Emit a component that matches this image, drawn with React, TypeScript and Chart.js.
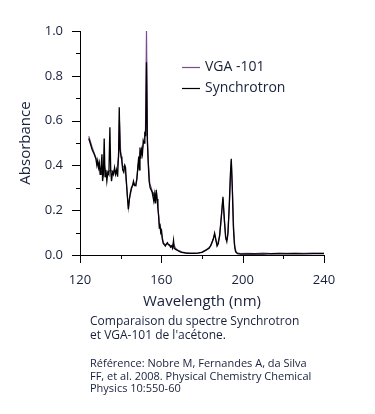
import { useEffect, useRef } from 'react';
import { Chart, registerables } from 'chart.js';

Chart.register(...registerables);

const FONT = "'Open Sans', 'Noto Sans', sans-serif";
const TEXT = '#18203c';

const synWavelength = [
  124.3, 125.0, 126.0, 127.0, 127.8, 128.3, 128.7, 129.1, 129.5, 129.9, 130.3, 130.8, 131.1, 131.5, 131.9, 132.3,
  132.7, 133.2, 133.7, 134.2, 134.7, 135.1, 135.5, 136.0, 136.5, 137.0, 137.5, 138.0, 138.5, 139.0, 139.3, 139.7,
  140.2, 140.6, 141.0, 141.5, 142.0, 142.4, 142.8, 143.3, 143.8, 144.3, 144.8, 145.3, 145.8, 146.3, 146.8, 147.4,
  148.0, 148.5, 148.9, 149.2, 149.5, 149.9, 150.3, 150.7, 151.1, 151.5, 151.9, 152.3, 152.7, 153.1, 153.5, 154.0,
  154.5, 155.0, 155.5, 155.9, 156.3, 156.7, 157.1, 157.5, 157.9, 158.3, 158.7, 159.0, 159.3, 159.7, 160.1, 160.5,
  161.0, 161.5, 162.0, 162.5, 163.0, 163.5, 164.0, 164.5, 165.0, 165.5, 166.0, 166.3, 167.0, 168.0, 169.0, 170.0,
  172.0, 174.0, 176.0, 178.0, 180.0, 182.0, 183.5, 184.5, 185.5, 186.2, 186.8, 187.4, 188.0, 188.7, 189.5, 190.3,
  191.0, 191.6, 192.2, 192.8, 193.4, 193.9, 194.4, 194.9, 195.4, 195.9, 196.5, 197.5, 199.0, 200.0, 205.0, 210.0,
  215.0, 220.0, 225.0, 230.0, 235.0, 240.0,
];
const synAbsorbance = [
  0.52, 0.5, 0.47, 0.45, 0.43, 0.4, 0.42, 0.39, 0.41, 0.36, 0.38, 0.45, 0.33, 0.36, 0.52, 0.35,
  0.38, 0.33, 0.37, 0.36, 0.57, 0.38, 0.33, 0.37, 0.36, 0.39, 0.36, 0.38, 0.35, 0.46, 0.66, 0.47,
  0.44, 0.42, 0.38, 0.37, 0.4, 0.39, 0.33, 0.26, 0.205, 0.25, 0.28, 0.3, 0.31, 0.33, 0.31, 0.31,
  0.34, 0.4, 0.44, 0.38, 0.48, 0.43, 0.47, 0.45, 0.51, 0.5, 0.55, 0.53, 0.86, 0.52, 0.42, 0.33,
  0.3, 0.29, 0.28, 0.26, 0.24, 0.27, 0.23, 0.29, 0.25, 0.21, 0.17, 0.12, 0.14, 0.1, 0.11, 0.07,
  0.05, 0.045, 0.04, 0.05, 0.055, 0.045, 0.045, 0.035, 0.04, 0.03, 0.065, 0.03, 0.025, 0.02, 0.015, 0.012,
  0.009, 0.007, 0.007, 0.008, 0.012, 0.022, 0.03, 0.045, 0.07, 0.098, 0.07, 0.04, 0.05, 0.09, 0.17, 0.26,
  0.16, 0.08, 0.06, 0.1, 0.22, 0.35, 0.43, 0.3, 0.13, 0.05, 0.015, 0.006, 0.004, 0.004, 0.005, 0.004,
  0.006, 0.005, 0.006, 0.005, 0.006, 0.006,
];

const vgaWavelength = [
  124.3, 125.0, 126.0, 127.0, 128.0, 129.0, 130.0, 131.0, 132.0, 133.0, 134.0, 135.0, 136.0, 137.0, 138.0, 139.0,
  139.4, 140.0, 141.0, 142.0, 143.0, 143.8, 144.5, 145.5, 146.5, 147.5, 148.5, 149.5, 150.5, 151.5, 152.2, 152.7,
  153.2, 153.7, 154.3, 155.0, 156.0, 157.0, 157.6, 158.3, 159.0, 160.0, 161.0, 162.0, 163.0, 164.0, 165.0, 166.0,
  167.0, 168.0, 170.0, 172.0, 174.0, 176.0, 178.0, 180.0, 182.0, 184.0, 185.5, 186.2, 187.0, 187.6, 188.7, 189.5,
  190.3, 191.0, 191.8, 192.5, 193.4, 194.4, 195.0, 195.6, 196.2, 197.0, 199.0, 202.0, 206.0, 210.0, 214.0, 218.0,
  222.0, 226.0, 230.0, 234.0, 238.0, 240.0,
];
const vgaAbsorbance = [
  0.53, 0.51, 0.48, 0.455, 0.43, 0.41, 0.38, 0.36, 0.4, 0.36, 0.37, 0.38, 0.37, 0.38, 0.37, 0.44,
  0.6, 0.46, 0.39, 0.4, 0.3, 0.21, 0.26, 0.3, 0.32, 0.31, 0.39, 0.46, 0.46, 0.51, 0.56, 1.0,
  0.5, 0.4, 0.32, 0.3, 0.27, 0.25, 0.28, 0.22, 0.14, 0.1, 0.055, 0.045, 0.05, 0.045, 0.04, 0.05,
  0.03, 0.022, 0.014, 0.01, 0.008, 0.008, 0.009, 0.013, 0.023, 0.038, 0.07, 0.09, 0.06, 0.045, 0.085, 0.17,
  0.25, 0.15, 0.07, 0.07, 0.21, 0.42, 0.28, 0.11, 0.03, 0.01, 0.006, 0.007, 0.006, 0.008, 0.006, 0.008,
  0.007, 0.008, 0.007, 0.009, 0.008, 0.008,
];

const seriesLabels = ['VGA -101', 'Synchrotron'];
const seriesColors = ['#7d4b8f', '#000000'];
const xTitle = 'Wavelength (nm)';
const yTitle = 'Absorbance';
const captionLines = ['Comparaison du spectre Synchrotron', "et VGA-101 de l'acétone."];
const referenceLines = [
  'Référence: Nobre M, Fernandes A, da Silva',
  'FF, et al. 2008. Physical Chemistry Chemical',
  'Physics 10:550-60',
];

const ticksAndLegend = {
  id: 'ticksAndLegend',
  afterDraw(chart: any) {
    const { ctx, chartArea } = chart;
    const x = chart.scales.x;
    const y = chart.scales.y;
    ctx.save();
    ctx.strokeStyle = '#000';
    ctx.lineWidth = 1;
    x.ticks.forEach((t: any) => {
      const px = Math.round(x.getPixelForValue(t.value)) + 0.5;
      const len = Math.round(t.value) % 40 === 0 ? 8 : 4;
      ctx.beginPath();
      ctx.moveTo(px, chartArea.bottom);
      ctx.lineTo(px, chartArea.bottom + len);
      ctx.stroke();
    });
    y.ticks.forEach((t: any) => {
      const py = Math.round(y.getPixelForValue(t.value)) + 0.5;
      const len = Math.round(t.value * 10) % 2 === 0 ? 8 : 4;
      ctx.beginPath();
      ctx.moveTo(chartArea.left, py);
      ctx.lineTo(chartArea.left - len, py);
      ctx.stroke();
    });
    // legend
    const lx = chartArea.left + 102;
    const ly = chartArea.top + 36;
    chart.data.datasets.forEach((ds: any, i: number) => {
      const yy = ly + i * 21 + 0.5;
      ctx.strokeStyle = ds.borderColor;
      ctx.lineWidth = 1.2;
      ctx.beginPath();
      ctx.moveTo(lx, yy);
      ctx.lineTo(lx + 18, yy);
      ctx.stroke();
      ctx.fillStyle = TEXT;
      ctx.font = `14px ${FONT}`;
      ctx.textBaseline = 'middle';
      ctx.textAlign = 'left';
      ctx.fillText(ds.label, lx + 23, yy);
    });
    ctx.restore();
  },
};

export default function App() {
  const ref = useRef<HTMLCanvasElement | null>(null);
  useEffect(() => {
    if (!ref.current) return;
    const chart = new Chart(ref.current, {
      type: 'line',
      data: {
        datasets: [
          {
            label: seriesLabels[0],
            data: vgaWavelength.map((w, i) => ({ x: w, y: vgaAbsorbance[i] })),
            borderColor: seriesColors[0],
            borderWidth: 1.2,
            pointRadius: 0,
            tension: 0,
            order: 2,
          },
          {
            label: seriesLabels[1],
            data: synWavelength.map((w, i) => ({ x: w, y: synAbsorbance[i] })),
            borderColor: seriesColors[1],
            borderWidth: 1.3,
            pointRadius: 0,
            tension: 0,
            order: 1,
          },
        ],
      },
      options: {
        responsive: false,
        animation: false,
        layout: { padding: { left: 0, right: 51, top: 31, bottom: 99 } },
        plugins: { legend: { display: false }, tooltip: { enabled: false } },
        scales: {
          x: {
            type: 'linear',
            min: 120,
            max: 240,
            border: { display: true, color: '#000', width: 1 },
            grid: { display: true, drawOnChartArea: false, drawTicks: true, tickLength: 8, tickColor: 'rgba(0,0,0,0)' },
            ticks: {
              stepSize: 20,
              padding: 9,
              color: TEXT,
              font: { family: FONT, size: 13 },
              maxRotation: 0,
              autoSkip: false,
              callback: (v: any) => (Math.round(v) % 40 === 0 ? String(v) : ''),
            },
            title: { display: true, text: xTitle, color: TEXT, font: { family: FONT, size: 15 }, padding: { top: 0, bottom: 4 } },
            afterFit: (s: any) => {
              s.height = 60;
            },
          },
          y: {
            type: 'linear',
            min: 0,
            max: 1,
            border: { display: true, color: '#000', width: 1 },
            grid: { display: true, drawOnChartArea: false, drawTicks: true, tickLength: 8, tickColor: 'rgba(0,0,0,0)' },
            ticks: {
              stepSize: 0.1,
              padding: 9,
              color: TEXT,
              font: { family: FONT, size: 13 },
              autoSkip: false,
              callback: (v: any) => (Math.round(v * 10) % 2 === 0 ? Number(v).toFixed(1) : ''),
            },
            title: { display: true, text: yTitle, color: TEXT, font: { family: FONT, size: 15 }, padding: { top: 17, bottom: 0 } },
            afterFit: (s: any) => {
              s.width = 80;
            },
          },
        },
      },
      plugins: [ticksAndLegend],
    });
    return () => chart.destroy();
  }, []);

  return (
    <div style={{ position: 'absolute', left: 0, top: 0, width: 375, height: 414, fontFamily: FONT, color: TEXT }}>
      <canvas ref={ref} width={375} height={414} style={{ position: 'absolute', left: 0, top: 0 }} />
      <div style={{ position: 'absolute', left: 90, top: 314, fontSize: 12, lineHeight: '14.3px', whiteSpace: 'nowrap' }}>
        {captionLines.map((l) => (
          <div key={l}>{l}</div>
        ))}
      </div>
      <div style={{ position: 'absolute', left: 90, top: 357, fontSize: 11, lineHeight: '12.5px', whiteSpace: 'nowrap' }}>
        {referenceLines.map((l) => (
          <div key={l}>{l}</div>
        ))}
      </div>
    </div>
  );
}
